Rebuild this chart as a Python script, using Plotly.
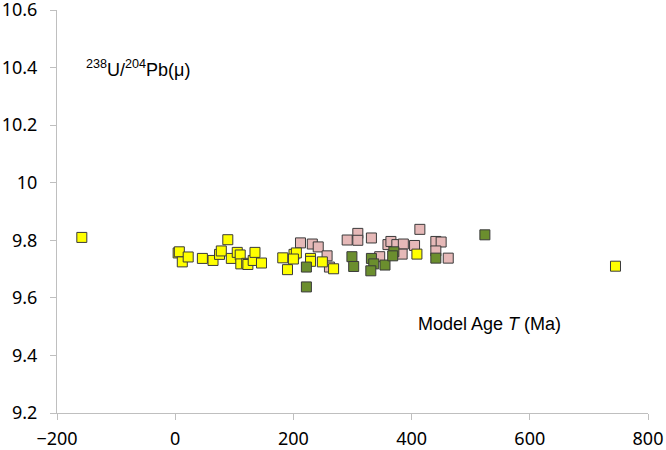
import plotly.graph_objects as go

# Yellow series
yellow_x = [-158, 5, 7, 12, 22, 46, 64, 75, 78, 89, 95, 105, 110, 111, 121, 123, 132, 135, 146,
            182, 190, 201, 205, 200, 229, 229, 249, 268, 409, 745]
yellow_y = [9.81, 9.756, 9.76, 9.725, 9.742, 9.737, 9.730, 9.751, 9.763, 9.802, 9.737, 9.758, 9.749,
            9.718, 9.72, 9.716, 9.73, 9.758, 9.721, 9.739, 9.698, 9.751, 9.756, 9.735, 9.737, 9.727,
            9.725, 9.701, 9.752, 9.71]

# Pink series
pink_x = [212, 232, 242, 257, 261, 291, 309, 309, 332, 346, 360, 365, 375, 386, 384, 405, 414, 441,
          450, 441, 462]
pink_y = [9.791, 9.787, 9.777, 9.746, 9.707, 9.801, 9.824, 9.80, 9.808, 9.743, 9.785, 9.796, 9.785,
          9.787, 9.752, 9.782, 9.838, 9.796, 9.794, 9.763, 9.738]

# Green series
green_x = [222, 222, 299, 302, 332, 336, 331, 355, 370, 368, 441, 524]
green_y = [9.707, 9.638, 9.743, 9.709, 9.737, 9.718, 9.694, 9.714, 9.760, 9.746, 9.738, 9.819]

x_ticks = [-200, 0, 200, 400, 600, 800]
y_ticks = [9.2, 9.4, 9.6, 9.8, 10, 10.2, 10.4, 10.6]
y_tick_labels = ["9.2", "9.4", "9.6", "9.8", "10", "10.2", "10.4", "10.6"]

fig = go.Figure()

def add_series(xs, ys, color):
    fig.add_trace(go.Scatter(
        x=xs, y=ys, mode="markers",
        marker=dict(symbol="square", size=10, color=color,
                    line=dict(color="#3a3a3a", width=1)),
        showlegend=False,
        cliponaxis=False,
    ))

add_series(pink_x, pink_y, "#E6B9B8")
add_series(yellow_x, yellow_y, "#FFFF00")
add_series(green_x, green_y, "#6B8E2E")

axis_font = dict(family="Noto Sans, Open Sans, sans-serif", size=18, color="#000000")

fig.update_layout(
    width=666, height=450,
    margin=dict(l=57, r=18, t=10, b=37, autoexpand=False),
    paper_bgcolor="white", plot_bgcolor="white",
    xaxis=dict(range=[-200, 800], tickvals=x_ticks, showgrid=False, zeroline=False,
               showline=True, linecolor="#BFBFBF", linewidth=1, automargin=False,
               ticklabeloverflow="allow", ticklabelstandoff=3,
               ticks="outside", ticklen=6, tickcolor="#BFBFBF", tickfont=axis_font),
    yaxis=dict(range=[9.2, 10.6], tickvals=y_ticks, ticktext=y_tick_labels, showgrid=False,
               zeroline=False, showline=True, linecolor="#BFBFBF", linewidth=1, automargin=False,
               ticklabeloverflow="allow", ticklabelstandoff=9,
               ticks="outside", ticklen=6, tickcolor="#BFBFBF", tickfont=axis_font),
    annotations=[
        dict(text="<sup>238</sup>U/<sup>204</sup>Pb(\u03bc)", xref="paper", yref="paper",
             x=0.046, y=0.856, xanchor="left", yanchor="middle", showarrow=False,
             font=dict(family="Liberation Sans, Arial, sans-serif", size=18, color="#000000")),
        dict(text="Model Age <i>T</i> (Ma)", xref="paper", yref="paper",
             x=0.608, y=0.221, xanchor="left", yanchor="middle", showarrow=False,
             font=dict(family="Liberation Sans, Arial, sans-serif", size=18, color="#000000")),
    ],
)

fig.write_html(
    "out.html",
    config={"displayModeBar": False},
    post_script="document.body.style.margin='0';document.body.style.overflow='hidden';",
)
